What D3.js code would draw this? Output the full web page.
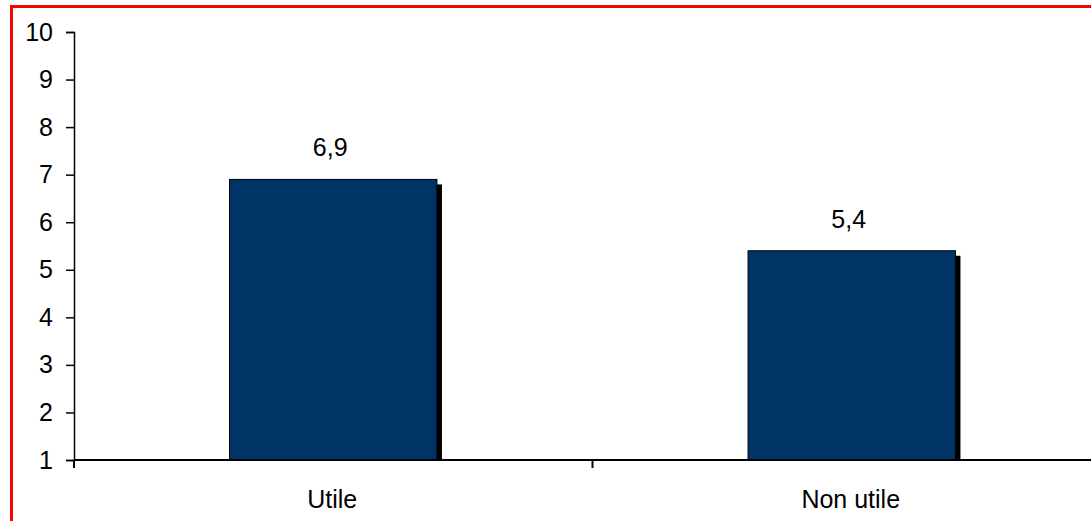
<!DOCTYPE html>
<html>
<head>
<meta charset="utf-8">
<script src="https://cdn.jsdelivr.net/npm/d3@7"></script>
<style>
  html, body { margin: 0; padding: 0; background: #fff; }
  svg { display: block; }
  text { font-family: "Liberation Sans", Arial, sans-serif; fill: #000; }
</style>
</head>
<body>
<svg id="chart" width="1091" height="521"></svg>
<script>
// Chart data
const categories = ["Utile", "Non utile"];
const values = [6.9, 5.4];
const valueLabels = ["6,9", "5,4"];
const yTicks = [1, 2, 3, 4, 5, 6, 7, 8, 9, 10];

(function () {
  const svg = d3.select("#chart");
  const W = 1091, H = 521;
  const fontSize = 25;

  // Frame around the chart area
  svg.append("rect")
    .attr("x", 11.5).attr("y", 6.5)
    .attr("width", W + 20).attr("height", H + 20)
    .attr("fill", "none").attr("stroke", "#ff0000").attr("stroke-width", 3);

  const plotLeft = 74, plotTop = 32, plotBottom = 460, plotRight = 1111;

  const x = d3.scaleBand().domain(categories).range([plotLeft, plotRight]).paddingInner(0).paddingOuter(0);
  const y = d3.scaleLinear().domain([1, 10]).range([plotBottom, plotTop]);

  const barW = x.bandwidth() * 0.4;
  const shadow = 5;

  // Bars with drop shadow
  const g = svg.append("g");
  categories.forEach((c, i) => {
    const cx = x(c) + x.bandwidth() / 2;
    const x0 = cx - barW / 2;
    const yt = y(values[i]);
    g.append("rect")
      .attr("x", x0 + shadow).attr("y", yt + shadow)
      .attr("width", barW).attr("height", plotBottom - yt - shadow)
      .attr("fill", "#000");
    g.append("rect")
      .attr("x", x0).attr("y", yt)
      .attr("width", barW).attr("height", plotBottom - yt)
      .attr("fill", "#003366").attr("stroke", "#000").attr("stroke-width", 1);
    g.append("text")
      .attr("x", cx - 3).attr("y", yt - 23)
      .attr("text-anchor", "middle")
      .attr("font-size", fontSize)
      .text(valueLabels[i]);
  });

  // Y axis
  const yAxis = d3.axisLeft(y).tickValues(yTicks).tickSize(8).tickPadding(13).tickFormat(d3.format("d"));
  const ya = svg.append("g").attr("transform", `translate(${plotLeft},0)`).call(yAxis);
  ya.attr("font-size", fontSize);
  ya.selectAll("text").attr("font-size", fontSize).style("font-family", '"Liberation Sans", Arial, sans-serif');
  ya.selectAll("line, path").attr("stroke", "#000").attr("stroke-width", 1.5);

  // X axis with ticks at category boundaries
  const xa = svg.append("g").attr("transform", `translate(0,${plotBottom})`);
  xa.append("line").attr("x1", plotLeft).attr("x2", plotRight).attr("stroke", "#000").attr("stroke-width", 2);
  const boundaries = [plotLeft, x(categories[1])];
  xa.selectAll(".b").data(boundaries).enter().append("line")
    .attr("x1", d => d).attr("x2", d => d)
    .attr("y1", 0).attr("y2", 8)
    .attr("stroke", "#000").attr("stroke-width", 2);
  xa.selectAll(".lbl").data(categories).enter().append("text")
    .attr("x", d => x(d) + x.bandwidth() / 2 - 1)
    .attr("y", 48)
    .attr("text-anchor", "middle")
    .attr("font-size", fontSize)
    .text(d => d);
})();
</script>
</body>
</html>
